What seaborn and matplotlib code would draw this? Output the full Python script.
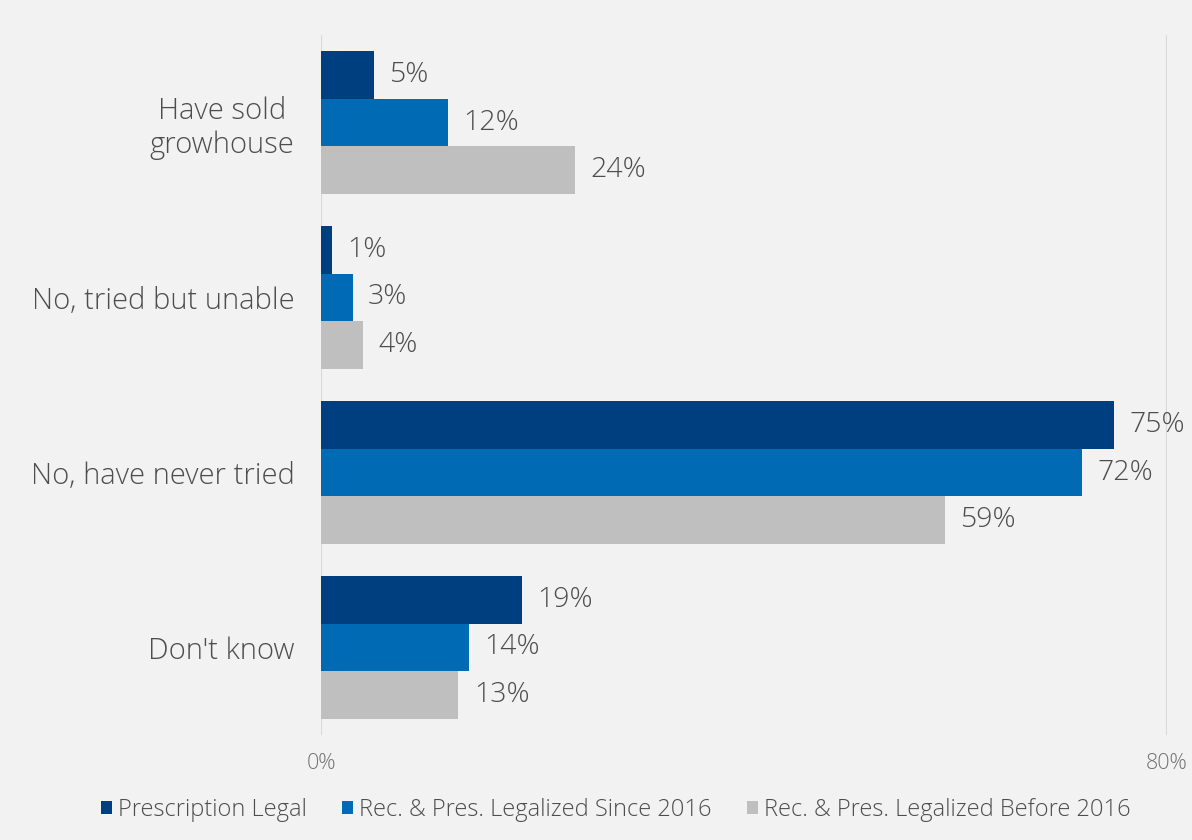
import matplotlib
matplotlib.use("Agg")
import matplotlib.pyplot as plt
from matplotlib.patches import Patch
import pandas as pd
import seaborn as sns

# Survey responses (% of respondents) per legal status group
categories = ["Have sold\ngrowhouse", "No, tried but unable", "No, have never tried", "Don't know"]
groups = ["Prescription Legal", "Rec. & Pres. Legalized Since 2016", "Rec. & Pres. Legalized Before 2016"]
prescription_legal = [5, 1, 75, 19]
legalized_since_2016 = [12, 3, 72, 14]
legalized_before_2016 = [24, 4, 59, 13]
x_ticks = [0, 80]
x_tick_labels = ["0%", "80%"]

colors = ["#003F7F", "#006AB5", "#BFBFBF"]
text_color = "#4D4D4D"
bg = "#F2F2F2"

rows = []
for g, vals in zip(groups, [prescription_legal, legalized_since_2016, legalized_before_2016]):
    for c, v in zip(categories, vals):
        rows.append({"Response": c, "Group": g, "Share": v})
df = pd.DataFrame(rows)

sns.set_theme(style="white")
plt.rcParams["font.family"] = ["Open Sans", "DejaVu Sans"]
plt.rcParams["font.weight"] = "light"

fig = plt.figure(figsize=(11.92, 8.4), dpi=100, facecolor=bg)
ax = fig.add_axes([321 / 1192, 1 - 735 / 840, (1167 - 321) / 1192, 700 / 840])
ax.set_facecolor(bg)

sns.barplot(data=df, y="Response", x="Share", hue="Group", order=categories,
            hue_order=groups, palette=colors, saturation=1, orient="h", width=0.82,
            edgecolor="none", linewidth=0, legend=False, ax=ax)

for cont in ax.containers:
    vals = [r.get_width() for r in cont]
    ax.bar_label(cont, labels=[f"{v:g}%" for v in vals], padding=11,
                 fontsize=20.5, color=text_color, fontweight="light")

ax.set_xlim(0, 80)
ax.set_ylim(3.5, -0.5)
ax.set_xticks(x_ticks)
ax.set_xticklabels(x_tick_labels, fontsize=15.5, color="#737373", fontweight="light")
ax.tick_params(axis="x", length=0, pad=13)
ax.tick_params(axis="y", length=0, pad=19)
for lbl in ax.get_yticklabels():
    lbl.set_fontsize(21)
    lbl.set_color(text_color)
    lbl.set_fontweight("light")
    lbl.set_multialignment("center")
ax.set_xlabel("")
ax.set_ylabel("")
for s in ax.spines.values():
    s.set_visible(False)
for xv in x_ticks:
    ax.axvline(xv, color="#D9D9D9", linewidth=1.5, zorder=0)

handles = [Patch(facecolor=c, edgecolor="none") for c in colors]
leg = fig.legend(handles, groups, loc="center", bbox_to_anchor=(616 / 1192, 1 - 810 / 840),
                 ncol=3, frameon=False, fontsize=17, handlelength=0.45, handleheight=0.45,
                 handletextpad=0.26, columnspacing=1.5)
for t in leg.get_texts():
    t.set_color(text_color)
    t.set_fontweight("light")

fig.savefig("out.png", dpi=100, facecolor=bg)
